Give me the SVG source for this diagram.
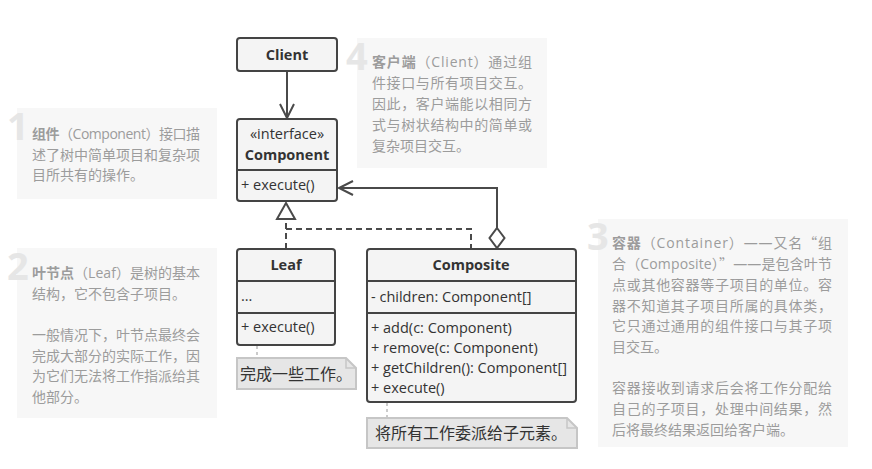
<svg xmlns="http://www.w3.org/2000/svg" width="872" height="469" viewBox="0 0 872 469">
<style>
.box{fill:#f4f4f4;stroke:#444;stroke-width:2}
.div{stroke:#444;stroke-width:2}
.t{font-family:"Open Sans","Noto Sans CJK SC",sans-serif;font-size:14.5px;fill:#333}
.b{font-weight:bold}
.mid{text-anchor:middle}
.conn{fill:none;stroke:#4a4a4a;stroke-width:2}
.dash{fill:none;stroke:#4a4a4a;stroke-width:2;stroke-dasharray:6,4}
.dot{fill:none;stroke:#bbb;stroke-width:1.5;stroke-dasharray:3,3}
.note{fill:#e6e6e6;stroke:#c6c6c6;stroke-width:2}
.nt{font-family:"Open Sans","Noto Sans CJK SC",sans-serif;font-size:16px;fill:#333}
.cbg{fill:#f7f7f7}
.num{font-family:"Open Sans","Noto Sans",sans-serif;font-size:38px;font-weight:bold;fill:#e6e6e6}
.ct{font-family:"Open Sans","Noto Sans CJK SC",sans-serif;font-size:14px;fill:#9c9c9c}
.cj{font-family:"Noto Sans CJK SC",sans-serif}
</style>

<!-- comment panels -->
<g id="comment1">
<rect class="cbg" x="17" y="108" width="200" height="91"/>
<text class="num" x="7" y="140">1</text>
<text class="ct" x="32" y="139" textLength="168" lengthAdjust="spacing"><tspan class="b">组件</tspan>（Component）接口描</text>
<text class="ct" x="32" y="160" textLength="168" lengthAdjust="spacing">述了树中简单项目和复杂项</text>
<text class="ct" x="32" y="180">目所共有的操作。</text>
</g>

<g id="comment2">
<rect class="cbg" x="17" y="248" width="200" height="170"/>
<text class="num" x="7" y="280">2</text>
<text class="ct" x="32" y="278" textLength="168" lengthAdjust="spacing"><tspan class="b">叶节点</tspan>（Leaf）是树的基本</text>
<text class="ct" x="32" y="298.5">结构，它不包含子项目。</text>
<text class="ct" x="32" y="340" textLength="168" lengthAdjust="spacing">一般情况下，叶节点最终会</text>
<text class="ct" x="32" y="360.5" textLength="168" lengthAdjust="spacing">完成大部分的实际工作，因</text>
<text class="ct" x="32" y="381" textLength="168" lengthAdjust="spacing">为它们无法将工作指派给其</text>
<text class="ct" x="32" y="401.5">他部分。</text>
</g>

<g id="comment4">
<rect class="cbg" x="357" y="38" width="190" height="130"/>
<text class="num" x="346" y="70">4</text>
<text class="ct" x="372" y="67" textLength="160" lengthAdjust="spacing"><tspan class="b">客户端</tspan>（Client）通过组</text>
<text class="ct" x="372" y="88" textLength="160" lengthAdjust="spacing">件接口与所有项目交互。</text>
<text class="ct" x="372" y="109" textLength="160" lengthAdjust="spacing">因此，客户端能以相同方</text>
<text class="ct" x="372" y="130" textLength="160" lengthAdjust="spacing">式与树状结构中的简单或</text>
<text class="ct" x="372" y="151">复杂项目交互。</text>
</g>

<g id="comment3">
<rect class="cbg" x="598" y="219" width="250" height="228"/>
<text class="num" x="587" y="250">3</text>
<text class="ct" x="612" y="248" textLength="220" lengthAdjust="spacing"><tspan class="b">容器</tspan>（Container）——又名<tspan class="cj">“</tspan>组</text>
<text class="ct" x="612" y="269" textLength="220" lengthAdjust="spacing">合（Composite）<tspan class="cj">”</tspan>——是包含叶节</text>
<text class="ct" x="612" y="290" textLength="220" lengthAdjust="spacing">点或其他容器等子项目的单位。容</text>
<text class="ct" x="612" y="311" textLength="220" lengthAdjust="spacing">器不知道其子项目所属的具体类，</text>
<text class="ct" x="612" y="331" textLength="220" lengthAdjust="spacing">它只通过通用的组件接口与其子项</text>
<text class="ct" x="612" y="352">目交互。</text>
<text class="ct" x="612" y="393" textLength="220" lengthAdjust="spacing">容器接收到请求后会将工作分配给</text>
<text class="ct" x="612" y="414" textLength="220" lengthAdjust="spacing">自己的子项目，处理中间结果，然</text>
<text class="ct" x="612" y="435">后将最终结果返回给客户端。</text>
</g>

<!-- connectors -->
<g id="connectors">
<line class="conn" x1="287" y1="71" x2="287" y2="118"/>
<polyline class="conn" points="280,104 287,118 294,104"/>
<polyline class="dash" points="286,249 286,219"/>
<polyline class="dash" points="286,229 471,229 471,249"/>
<polygon class="conn" style="fill:#fff" points="286,203 295,219 277,219"/>
<polyline class="conn" points="497,228 497,188 339,188"/>
<polyline class="conn" points="353,181 339,188 353,195"/>
<polygon class="conn" style="fill:#fff" points="497,228 504.5,238 497,248 489.5,238"/>
<line class="dot" x1="257" y1="346" x2="257" y2="358"/>
<line class="dot" x1="387" y1="403" x2="387" y2="418"/>
</g>

<!-- nodes -->
<g id="client">
<rect class="box" x="237" y="38" width="100" height="33" rx="3"/>
<text class="t b mid" x="287" y="60">Client</text>
</g>

<g id="component">
<rect class="box" x="237" y="119" width="100" height="82" rx="3"/>
<line class="div" x1="237" y1="170" x2="337" y2="170"/>
<text class="t mid" x="287" y="139">«interface»</text>
<text class="t b mid" x="287" y="160">Component</text>
<text class="t" x="241" y="190">+ execute()</text>
</g>

<g id="leaf">
<rect class="box" x="237" y="249" width="98" height="96" rx="3"/>
<line class="div" x1="237" y1="281" x2="335" y2="281"/>
<line class="div" x1="237" y1="313" x2="335" y2="313"/>
<text class="t b mid" x="286" y="270">Leaf</text>
<text class="t" x="241" y="301">...</text>
<text class="t" x="241" y="332">+ execute()</text>
</g>

<g id="composite">
<rect class="box" x="367" y="249" width="209" height="153" rx="3"/>
<line class="div" x1="367" y1="281" x2="576" y2="281"/>
<line class="div" x1="367" y1="313" x2="576" y2="313"/>
<text class="t b mid" x="471" y="270">Composite</text>
<text class="t" x="371" y="302">- children: Component[]</text>
<text class="t" x="371" y="333">+ add(c: Component)</text>
<text class="t" x="371" y="353">+ remove(c: Component)</text>
<text class="t" x="371" y="373">+ getChildren(): Component[]</text>
<text class="t" x="371" y="393">+ execute()</text>
</g>

<g id="leaf-note">
<path class="note" d="M237,358 H346 L356,368 V389 H237 Z"/>
<path d="M346,358 V368 H356" fill="none" stroke="#c6c6c6" stroke-width="1.5"/>
<text class="nt" x="240" y="380">完成一些工作。</text>
</g>

<g id="composite-note">
<path class="note" d="M367,418 H567 L577,428 V448 H367 Z"/>
<path d="M567,418 V428 H577" fill="none" stroke="#c6c6c6" stroke-width="1.5"/>
<text class="nt" x="375" y="439">将所有工作委派给子元素。</text>
</g>
</svg>
